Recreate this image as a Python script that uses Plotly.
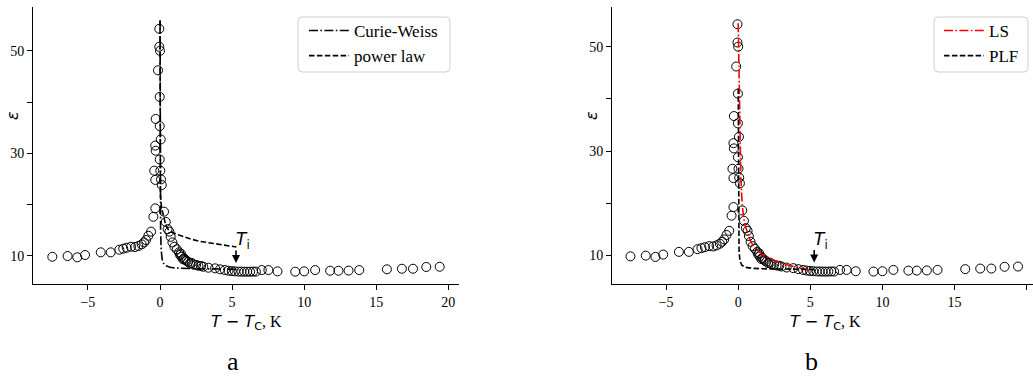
import plotly.graph_objects as go

# ---- measured data (same in both panels) ----
T_data = [-7.47, -6.41, -5.74, -5.2, -4.11, -3.42, -2.82, -2.55, -2.31, -2.01, -1.73, -1.5,
          -1.27, -1.11, -0.97, -0.81, -0.62, -0.46, -0.33, -0.33, -0.4, -0.3, -0.33, -0.3,
          -0.05, -0.05, 0.0, -0.14, -0.02, -0.02, 0.05, -0.02, 0.02, 0.07, 0.12, 0.28, 0.4,
          0.53, 0.65, 0.74, 0.86, 1.0, 1.16, 1.32, 1.39, 1.45, 1.5, 1.6, 1.67, 1.75, 1.85,
          1.95, 2.08, 2.2, 2.31, 2.5, 2.66, 2.85, 3.0, 3.36, 3.82, 4.17, 4.5, 4.75, 4.98, 5.2,
          5.45, 5.65, 5.85, 6.05, 6.25, 6.45, 6.65, 7.06, 7.52, 8.15, 9.38, 10.0, 10.76, 11.8,
          12.38, 13.08, 13.82, 15.74, 16.78, 17.55, 18.47, 19.4]
eps_data = [9.8, 9.94, 9.69, 10.14, 10.66, 10.66, 11.17, 11.37, 11.56, 11.76, 11.7, 11.9,
            12.22, 12.6, 13.06, 13.9, 14.7, 17.6, 19.25, 24.8, 26.6, 30.5, 31.5, 36.7,
            54.3, 50.8, 50.0, 46.2, 41.0, 35.3, 32.7, 28.8, 26.6, 24.9, 23.8, 18.6, 16.6,
            15.2, 14.7, 13.7, 12.6, 11.76, 11.25, 10.66, 10.14, 10.4, 9.8, 9.3, 9.5, 9.2, 9.0,
            8.8, 8.5, 8.6, 8.3, 8.2, 8.05, 8.0, 7.85, 7.66, 7.54, 7.35, 7.2, 7.07, 7.0, 6.95,
            6.9, 6.9, 6.88, 6.88, 6.88, 6.9, 6.9, 7.2, 7.2, 6.95, 6.88, 6.95, 7.2, 7.07,
            7.07, 7.1, 7.2, 7.35, 7.46, 7.46, 7.8, 7.85]

# ---- fitted curves ----
cw_T = [0.006, 0.01, 0.02, 0.04, 0.08, 0.15, 0.25, 0.4, 0.7, 1.0, 2.0, 3.5, 5.3]
cw_eps = [55.9, 38.0, 22.5, 15.0, 11.2, 9.3, 8.5, 8.05, 7.75, 7.62, 7.5, 7.42, 7.35]

pl_T = [0.0005, 0.002, 0.008, 0.03, 0.1, 0.23, 0.4, 0.58, 0.9, 1.16, 1.62, 2.2, 2.77, 3.7, 4.4, 5.3]
pl_eps = [55.9, 40.0, 28.0, 22.0, 19.5, 18.0, 15.9, 15.1, 14.5, 14.2, 13.7, 13.2, 12.8, 12.35, 12.0, 11.7]

ls_T = [0.0, 0.04, 0.08, 0.13, 0.18, 0.24, 0.32, 0.45, 0.6, 0.8, 1.0, 1.3, 1.7, 2.2, 2.9, 3.8, 4.4, 5.0]
ls_eps = [54.5, 46.0, 39.5, 30.5, 25.5, 21.5, 18.5, 16.0, 14.6, 13.1, 12.0, 11.0, 10.1, 9.4, 8.5, 7.9, 7.4, 7.0]

plf_T = [0.004, 0.008, 0.015, 0.03, 0.06, 0.12, 0.25, 0.5, 1.0, 2.0, 3.5, 5.3]
plf_eps = [42.0, 30.0, 20.0, 14.0, 10.8, 9.0, 8.1, 7.7, 7.5, 7.4, 7.35, 7.3]

x_ticks = [-5, 0, 5, 10, 15, 20]
x_ticktext = ["\u22125", "0", "5", "10", "15", "20"]
y_ticks = [10, 20, 30, 40, 50]
y_ticktext = ["10", "", "30", "", "50"]

Ti_T = 5.27
Ti_head, Ti_tail = 8.6, 11.3
Ti_label_T, Ti_label_eps = 5.75, 12.9

W, H = 1033, 378
SERIF = "Liberation Serif"
MATH = "DejaVu Sans"

fig = go.Figure()

marker = dict(symbol="circle", size=9, color="rgba(0,0,0,0)", line=dict(color="black", width=1))

# panel a
fig.add_trace(go.Scatter(x=T_data, y=eps_data, mode="markers", marker=marker,
                         showlegend=False, xaxis="x", yaxis="y"))
fig.add_trace(go.Scatter(x=cw_T, y=cw_eps, mode="lines", name="Curie-Weiss",
                         line=dict(color="black", width=1.6, dash="9px,2.4px,1.6px,2.4px"),
                         xaxis="x", yaxis="y", legend="legend"))
fig.add_trace(go.Scatter(x=pl_T, y=pl_eps, mode="lines", name="power law",
                         line=dict(color="black", width=1.6, dash="5.5px,2.4px"),
                         xaxis="x", yaxis="y", legend="legend"))
# panel b
fig.add_trace(go.Scatter(x=T_data, y=eps_data, mode="markers", marker=marker,
                         showlegend=False, xaxis="x2", yaxis="y2"))
fig.add_trace(go.Scatter(x=ls_T, y=ls_eps, mode="lines", name="LS",
                         line=dict(color="red", width=1.6, dash="9px,2.4px,1.6px,2.4px"),
                         xaxis="x2", yaxis="y2", legend="legend2"))
fig.add_trace(go.Scatter(x=plf_T, y=plf_eps, mode="lines", name="PLF",
                         line=dict(color="black", width=1.6, dash="5.5px,2.4px"),
                         xaxis="x2", yaxis="y2", legend="legend2"))

ydom = [(H - 284) / H, (H - 7.3) / H]
xdom1 = [33 / W, 459 / W]
xdom2 = [612 / W, 1.0]

def xax(dom, rng, anchor):
    return dict(domain=dom, range=rng, anchor=anchor, showline=True, linecolor="black", linewidth=1,
                ticks="outside", ticklen=5, tickwidth=1, tickcolor="black", showgrid=False,
                zeroline=False, tickvals=x_ticks, ticktext=x_ticktext,
                tickfont=dict(family=SERIF, size=14, color="black"))

def yax(rng, anchor):
    return dict(domain=ydom, range=rng, anchor=anchor, showline=True, linecolor="black", linewidth=1,
                ticks="outside", ticklen=5, tickwidth=1, tickcolor="black", showgrid=False,
                zeroline=False, tickvals=y_ticks, ticktext=y_ticktext,
                tickfont=dict(family=SERIF, size=14, color="black"))

legend_common = dict(borderwidth=0, bgcolor="rgba(0,0,0,0)",
                     font=dict(family=SERIF, size=17, color="black"), itemwidth=40,
                     yanchor="top", xanchor="left", tracegroupgap=0)

def rounded_box(x0, y0, x1, y1, r=4):
    # pixel coords (from top-left) -> paper path with rounded corners
    X = lambda p: p / W
    Y = lambda p: (H - p) / H
    return (f"M{X(x0 + r)},{Y(y0)} L{X(x1 - r)},{Y(y0)} Q{X(x1)},{Y(y0)} {X(x1)},{Y(y0 + r)} "
            f"L{X(x1)},{Y(y1 - r)} Q{X(x1)},{Y(y1)} {X(x1 - r)},{Y(y1)} "
            f"L{X(x0 + r)},{Y(y1)} Q{X(x0)},{Y(y1)} {X(x0)},{Y(y1 - r)} "
            f"L{X(x0)},{Y(y0 + r)} Q{X(x0)},{Y(y0)} {X(x0 + r)},{Y(y0)} Z")

shapes = [
    dict(type="path", xref="paper", yref="paper", path=rounded_box(298, 17, 450, 72),
         line=dict(color="#d0d0d0", width=1), fillcolor="rgba(255,255,255,0.8)", layer="above"),
    dict(type="path", xref="paper", yref="paper", path=rounded_box(934, 17, 1028, 72),
         line=dict(color="#d0d0d0", width=1), fillcolor="rgba(255,255,255,0.8)", layer="above"),
]

fig.update_layout(
    width=W, height=H, margin=dict(l=0, r=0, t=0, b=0),
    plot_bgcolor="white", paper_bgcolor="white",
    xaxis=xax(xdom1, [-8.81, 20.74], "y"),
    yaxis=yax([4.48, 58.5], "x"),
    xaxis2=xax(xdom2, [-8.75, 20.44], "y2"),
    yaxis2=yax([4.5, 57.55], "x2"),
    legend=dict(x=304 / W, y=(H - 13) / H, **legend_common),
    legend2=dict(x=939 / W, y=(H - 13) / H, **legend_common),
    shapes=shapes,
)

annotations = []
for xr, yr, cx, lx in [("x", "y", 246, 233), ("x2", "y2", 825, 811)]:
    # T_i arrow
    annotations.append(dict(x=Ti_T, y=Ti_head, ax=Ti_T, ay=Ti_tail, xref=xr, yref=yr,
                            axref=xr, ayref=yr, text="", showarrow=True, arrowhead=2,
                            arrowsize=1, arrowwidth=1.6, arrowcolor="black"))
    annotations.append(dict(x=Ti_label_T, y=Ti_label_eps, xref=xr, yref=yr, showarrow=False,
                            xanchor="center", yanchor="middle",
                            text="<i>T</i><sub>i</sub>",
                            font=dict(family=MATH, size=17, color="black")))
    # x title
    annotations.append(dict(x=cx / W, y=(H - 322) / H, xref="paper", yref="paper", showarrow=False,
                            xanchor="center", yanchor="middle",
                            text='<i>T</i> \u2212 <i>T</i><sub>C</sub><span style="font-family:Liberation Serif">, K</span>',
                            font=dict(family=MATH, size=16, color="black")))
    # panel letter
    annotations.append(dict(x=lx / W, y=(H - 361) / H, xref="paper", yref="paper", showarrow=False,
                            xanchor="center", yanchor="middle", text="a" if xr == "x" else "b",
                            font=dict(family=SERIF, size=26, color="black")))
# y titles
for px in [12, 591]:
    annotations.append(dict(x=px / W, y=(H - 116) / H, xref="paper", yref="paper", showarrow=False,
                            xanchor="center", yanchor="middle",
                            text="<i>ε</i>", textangle=-90,
                            font=dict(family=MATH, size=16, color="black")))
fig.update_layout(annotations=annotations)

fig.write_html("out.html", config={"displayModeBar": False},
               post_script="document.body.style.margin='0';document.body.style.padding='0';")
